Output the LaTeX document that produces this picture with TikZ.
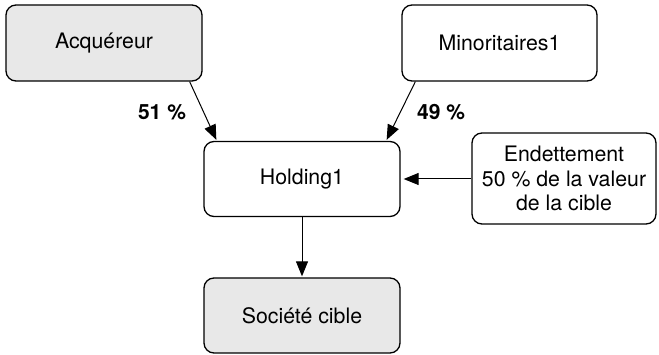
\documentclass[tikz,border=0pt]{standalone}
\usepackage{fontspec}
\setmainfont{TeX Gyre Heros}
\usetikzlibrary{arrows.meta,calc}
\begin{document}
\begin{tikzpicture}[x=1pt,y=-1pt,
  box/.style={draw=black,line width=1.3pt,rounded corners=10pt,align=center,inner sep=0pt,
    font=\fontsize{21.3}{24.5}\selectfont},
  grey/.style={fill=black!9},
  conn/.style={draw=black,line width=1pt,-{Triangle[length=15pt,width=12pt]}},
  pct/.style={font=\fontsize{21}{24}\selectfont\bfseries}]
\useasboundingbox (0,0) rectangle (659,355);
\node[box,grey,minimum width=196pt,minimum height=76pt] (acq) at (104,43) {Acquéreur};
\node[box,minimum width=195pt,minimum height=76pt] (min) at (499.5,43) {Minoritaires1};
\node[box,minimum width=196pt,minimum height=75pt] (hold) at (302,179) {Holding1};
\node[box,minimum width=184pt,minimum height=91pt] (end) at (564,178.5) {Endettement\\50 \% de la valeur\\de la cible};
\node[box,grey,minimum width=196pt,minimum height=75pt] (soc) at (302,315.5) {Société cible};
\draw[conn] ($(acq.south east)+(-13,0)$) -- ($(hold.north west)+(13,-1)$);
\draw[conn] ($(min.south west)+(14,0)$) -- ($(hold.north east)+(-14,-1)$);
\draw[conn] (hold.south) -- ($(soc.north)+(0,-1)$);
\draw[conn] (end.west |- hold.center) -- ($(hold.east)+(3,0)$);
\node[pct] (p51) at (162,112) {51 \%};
\node[pct] (p49) at (441,112) {49 \%};
\end{tikzpicture}
\end{document}
